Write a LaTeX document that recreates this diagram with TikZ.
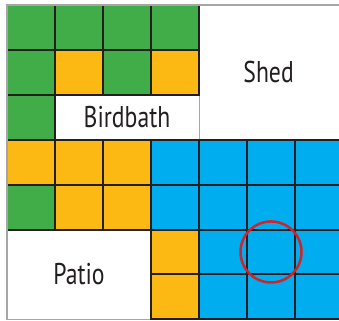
\documentclass[tikz,border=0pt]{standalone}
\usepackage{fontspec}
\setmainfont{PT Sans}
\usetikzlibrary{positioning}
\definecolor{plotgreen}{RGB}{64,173,73}
\definecolor{plotyellow}{RGB}{253,185,19}
\definecolor{plotblue}{RGB}{0,174,239}
\definecolor{plotred}{RGB}{210,35,42}
\definecolor{inkdark}{RGB}{35,31,32}
\tikzset{
    cell/.style={fill=#1, draw=inkdark, line width=2pt},
    area/.style={fill=white, draw=gray!70, line width=1pt},
    arealbl/.style={font=\fontsize{30}{36}\selectfont, text=inkdark, inner sep=0pt},
    marker/.style={circle, draw=plotred, line width=2.5pt, minimum size=61pt, inner sep=0pt}
}
\newcommand{\narrow}[1]{\scalebox{0.79}[1]{#1}}

\begin{document}
\begin{tikzpicture}[x=48pt, y=-44.9pt]
        \useasboundingbox (-0.1458,-0.1114) rectangle (6.9167,7.0156);
        \fill[white] (-0.1458,-0.1114) rectangle (6.9167,7.0156);

        % White areas
        \draw[area] (4,0) rectangle (7,3);
        \draw[area] (1,2) rectangle (4,3);
        \draw[area] (0,5) rectangle (3,7);

        % Planted cells
        \foreach \c/\r in {0/0, 1/0, 2/0, 3/0, 0/1, 2/1, 0/2, 0/4}
            \draw[cell=plotgreen] (\c,\r) rectangle (\c+1,\r+1);
        \foreach \c/\r in {1/1, 3/1, 0/3, 1/3, 2/3, 1/4, 2/4, 3/5, 3/6}
            \draw[cell=plotyellow] (\c,\r) rectangle (\c+1,\r+1);
        \foreach \c/\r in {3/3, 4/3, 5/3, 6/3, 3/4, 4/4, 5/4, 6/4, 4/5, 5/5, 6/5, 4/6, 5/6, 6/6}
            \draw[cell=plotblue] (\c,\r) rectangle (\c+1,\r+1);

        % Outer frame
        \draw[gray!70, line width=1.2pt] (0,7) -- (0,0) -- (7,0);

        % Labels
        \node[arealbl] (shed) at (5.45,1.5) {\narrow{Shed}};
        \node[arealbl] (birdbath) at (2.5,2.5) {\narrow{Birdbath}};
        \node[arealbl] (patio) at (1.5,6) {\narrow{Patio}};

        % Marked cell
        \node[marker] (spot) at (5.5,5.5) {};
\end{tikzpicture}
\end{document}
